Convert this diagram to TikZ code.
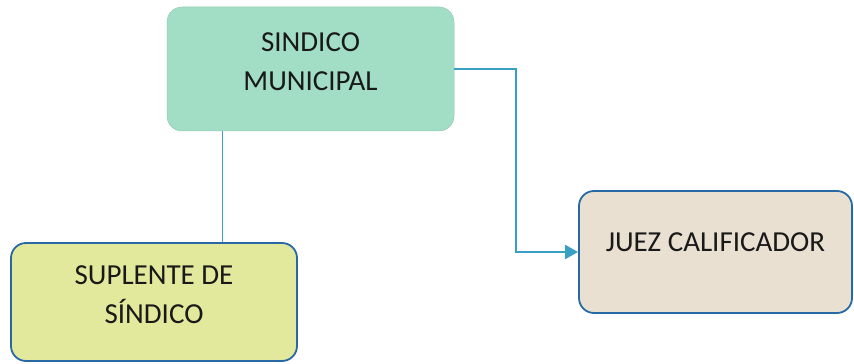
\documentclass[tikz,border=0pt]{standalone}
\usepackage{fontspec}
\setmainfont{Carlito}
\usetikzlibrary{arrows.meta}
\definecolor{menta}{RGB}{162,222,197}
\definecolor{mentaborde}{RGB}{150,200,180}
\definecolor{limon}{RGB}{227,233,156}
\definecolor{arena}{RGB}{234,224,210}
\definecolor{azulborde}{RGB}{40,105,165}
\definecolor{conector}{RGB}{58,160,195}
\begin{document}
\begin{tikzpicture}[x=1pt,y=1pt,
    caja/.style={rounded corners=15pt,align=center,text=black!90,
      font=\fontsize{29}{39}\selectfont,inner sep=0pt},
    cajaazul/.style={caja,draw=azulborde,line width=1.8pt}]
		\useasboundingbox (0,0) rectangle (854,364);
		\coordinate (A) at (310.5,295);
		\coordinate (B) at (154,62);
		\coordinate (C) at (715.5,112);

		\node[caja,fill=menta,draw=mentaborde,line width=0.5pt,minimum width=287pt,minimum height=124pt,text depth=14pt] (sindico) at (A) {SINDICO\\MUNICIPAL};
		\node[cajaazul,fill=limon,minimum width=286pt,minimum height=118pt,text depth=14pt] (suplente) at (B) {SUPLENTE DE\\SÍNDICO};
		\node[cajaazul,fill=arena,minimum width=273pt,minimum height=122pt,text depth=19pt] (juez) at (C) {JUEZ CALIFICADOR};

		\coordinate (bajada) at (222,0);
		\coordinate (codo) at (516,0);

		\draw[conector,line width=0.8pt] (sindico.south -| bajada) -- (suplente.north -| bajada);
		\begin{scope}[-{Triangle[length=13pt,width=14pt]},conector,line width=2pt]
		    \draw (sindico.east) -- (sindico.east -| codo) |- (juez.west);
		\end{scope}
	    \end{tikzpicture}
\end{document}
